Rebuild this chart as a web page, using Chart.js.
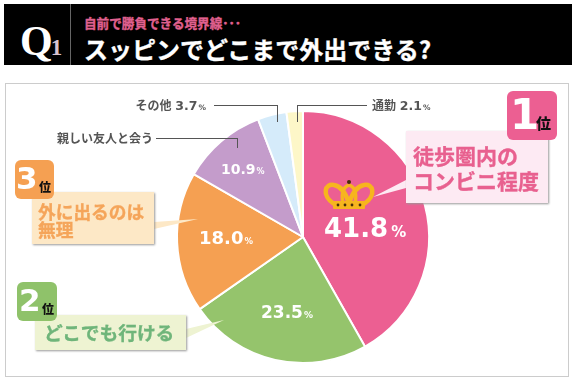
<!DOCTYPE html>
<html lang="ja"><head><meta charset="utf-8">
<script src="https://cdn.jsdelivr.net/npm/chart.js@4"></script>
<style>
html,body{margin:0;padding:0;background:#fff;overflow:hidden}
#stage{position:relative;width:578px;height:386px;font-family:"Noto Sans CJK JP",sans-serif;overflow:hidden}
#stage>*{position:absolute}
#bar{left:4px;top:4px;width:568px;height:61px;background:#000}
#sep{left:70px;top:4px;width:1px;height:61px;background:#666}
#panel{left:5px;top:83px;width:562px;height:292px;border:1px solid #ccc;background:#fff;box-sizing:content-box}
#cv{left:0;top:0}
.t{white-space:nowrap;line-height:1}
.box{box-shadow:1px 1px 2px #999}
.cb{font-weight:700;-webkit-text-stroke:.35px currentColor}
.badge{border-radius:6px;color:#fff}
.num{font-family:"DejaVu Sans",sans-serif;font-weight:700;line-height:1;position:absolute}
.wi{font-weight:900;color:#111;position:absolute;line-height:1}
.line{background:#555}
.val{font-family:"DejaVu Sans",sans-serif;font-weight:700;color:#fff;white-space:nowrap;line-height:1}
.lab{font-weight:700;color:#555;font-size:12px;white-space:nowrap;line-height:1}
.lab b{font-family:"DejaVu Sans",sans-serif;font-size:12.500px;font-weight:700;margin-left:1px}
.lab i{font-family:"DejaVu Sans",sans-serif;font-size:7.500px;font-style:normal;margin-left:1px}
</style></head><body>
<div id="stage">
<div id="bar"></div><div id="sep"></div>
<div class="t" style="left:20px;top:17px;font:700 42px 'Liberation Serif',serif;color:#fff">Q<span style="font-size:23px;color:#d9c3cf;margin-left:-2px">1</span></div>
<div class="t cb" id="sub" style="left:84px;top:17px;font-size:12.600px;color:#e0608f"></div>
<div class="t cb" id="ttl" style="left:84px;top:37px;font-size:24px;color:#fff"></div>
<div id="panel"></div>
<canvas id="cv" width="578" height="386"></canvas>

<div class="line" style="left:214px;top:105px;width:64px;height:1px"></div>
<div class="line" style="left:277px;top:105px;width:1px;height:17px"></div>
<div class="line" style="left:297px;top:105px;width:70px;height:1px"></div>
<div class="line" style="left:297px;top:105px;width:1px;height:17px"></div>
<div class="line" style="left:156px;top:138px;width:81px;height:1px"></div>
<div class="line" style="left:237px;top:138px;width:1px;height:10px"></div>
<div class="lab" id="l4" style="right:372px;top:99px"></div>
<div class="lab" id="l5" style="left:372px;top:99px"></div>
<div class="lab" id="l3" style="left:57px;top:132px"></div>

<svg style="left:0;top:0" width="578" height="386">
<polygon points="406,180 406,188 373,197" fill="#fdeaf3"/>
<polygon points="154,222 154,229 198,219" fill="#fde8c6"/>
<polygon points="186,329 186,338 224,320" fill="#eef3d2"/>
<g fill="none" stroke="#f7b51e" stroke-width="4.500">
<path d="M334 204 C321 195 325 183 334 185 C341 186 345 192 349 203 C353 192 357 186 364 185 C373 183 377 195 364 204"/>
<path d="M349 185 C343 187 341 194 343 203 M349 185 C355 187 357 194 355 203" stroke-width="3.500"/>
</g>
<rect x="333" y="201" width="32" height="8" rx="1" fill="#f7b51e"/>
<g fill="#4a2e08"><circle cx="349" cy="182" r="2"/><circle cx="338" cy="205" r="1.400"/><circle cx="345" cy="205" r="1.400"/><circle cx="352" cy="205" r="1.400"/><circle cx="360" cy="205" r="1.400"/></g>
</svg>

<div class="val" id="v0" style="left:324px;top:215px;font-size:26px"></div>
<div class="val" id="v1" style="left:261px;top:304px;font-size:17px"></div>
<div class="val" id="v2" style="left:199px;top:229px;font-size:18px"></div>
<div class="val" id="v3" style="left:221px;top:162px;font-size:14px"></div>

<div class="box" style="left:406px;top:131px;width:142px;height:72px;background:#fdeaf3"></div>
<div class="t cb" id="c0a" style="left:413px;top:145px;font-size:21px;color:#e8608f"></div>
<div class="t cb" id="c0b" style="left:413px;top:170px;font-size:21px;color:#e8608f"></div>
<div class="badge" style="left:507px;top:91px;width:50px;height:49px;background:#ec5f92"><span class="num" style="left:3px;top:3px;font-size:42px">1</span><span class="wi" style="left:29px;top:24px;font-size:15px">位</span></div>

<div class="box" style="left:32px;top:192px;width:122px;height:52px;background:#fde8c6"></div>
<div class="t cb" id="c2a" style="left:38px;top:203px;font-size:17.700px;color:#f5a55a"></div>
<div class="t cb" id="c2b" style="left:38px;top:221px;font-size:17.700px;color:#f5a55a"></div>
<div class="badge" style="left:15px;top:160px;width:39px;height:39px;background:#f5a052"><span class="num" style="left:1px;top:3px;font-size:31px">3</span><span class="wi" style="left:24px;top:21px;font-size:12px">位</span></div>

<div class="box" style="left:35px;top:315px;width:151px;height:35px;background:#eef3d2"></div>
<div class="t cb" id="c1a" style="left:44px;top:323px;font-size:18.700px;color:#6fb57a"></div>
<div class="badge" style="left:17px;top:282px;width:40px;height:39px;background:#8fc26a"><span class="num" style="left:2px;top:3px;font-size:31px">2</span><span class="wi" style="left:25px;top:21px;font-size:12px">位</span></div>
</div>
<script>
const subtitle="自前で勝負できる境界線･･･";
const title="スッピンでどこまで外出できる?";
const categories=["徒歩圏内のコンビニ程度","どこでも行ける","外に出るのは無理","親しい友人と会う","その他","通勤"];
const values=[41.8,23.5,18.0,10.9,3.7,2.1];
const colors=["#ec5f92","#95c46c","#f5a052","#c49ccb","#d5ebfa","#fdf7c8"];
const $=id=>document.getElementById(id);
$("sub").textContent=subtitle;$("ttl").textContent=title;
$("c0a").textContent="徒歩圏内の";$("c0b").textContent="コンビニ程度";
$("c2a").textContent="外に出るのは";$("c2b").textContent="無理";
$("c1a").textContent=categories[1];
const f=v=>v.toFixed(1);
[0,1,2,3].forEach((i)=>{const fs=[15,9,8.5,8][i];$("v"+i).innerHTML=f(values[i])+'<span style="font-size:'+fs+'px;margin-left:'+(i?1:3)+'px">%</span>';});
$("l3").textContent=categories[3];
$("l4").innerHTML=categories[4]+' <b>'+f(values[4])+'</b><i>%</i>';
$("l5").innerHTML=categories[5]+' <b>'+f(values[5])+'</b><i>%</i>';
new Chart($("cv"),{type:"pie",data:{labels:categories,datasets:[{data:values,backgroundColor:colors,borderColor:"#fff",borderWidth:2,radius:126}]},
options:{responsive:false,animation:false,layout:{padding:{left:28,top:88}},plugins:{legend:{display:false},tooltip:{enabled:false}}}});
</script>
</body></html>
